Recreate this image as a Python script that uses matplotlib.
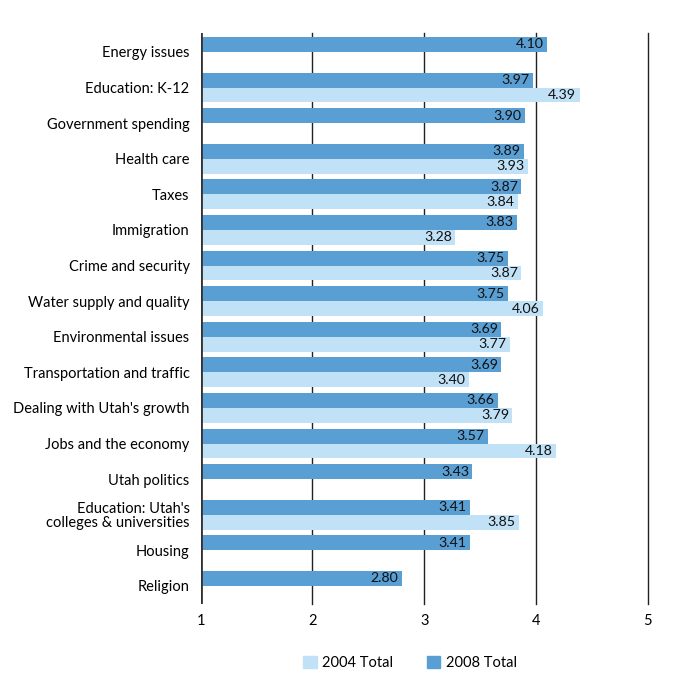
import numpy as np
import matplotlib.pyplot as plt
from matplotlib.patches import Patch

plt.rcParams['font.family'] = ['Lato', 'DejaVu Sans']

categories = ["Energy issues", "Education: K-12", "Government spending", "Health care",
              "Taxes", "Immigration", "Crime and security", "Water supply and quality",
              "Environmental issues", "Transportation and traffic",
              "Dealing with Utah's growth", "Jobs and the economy", "Utah politics",
              "Education: Utah's\ncolleges & universities", "Housing", "Religion"]
total_2008 = [4.10, 3.97, 3.90, 3.89, 3.87, 3.83, 3.75, 3.75, 3.69, 3.69, 3.66, 3.57,
              3.43, 3.41, 3.41, 2.80]
total_2004 = [None, 4.39, None, 3.93, 3.84, 3.28, 3.87, 4.06, 3.77, 3.40, 3.79, 4.18,
              None, 3.85, None, None]

dark = '#5a9fd4'
light = '#c1e1f6'
h = 0.42

fig = plt.figure(figsize=(6.78, 7), dpi=100)
ax = fig.add_axes([0.296, 0.137, 0.6593, 0.816])

y = np.arange(len(categories))
base = 1

for i, v in enumerate(total_2008):
    ax.barh(i - h / 2, v - base, left=base, height=h, color=dark, zorder=3)
    ax.text(v - 0.03, i - h / 2, f"{v:.2f}", ha='right', va='center', fontsize=10.2,
            color='#111111', zorder=4)
for i, v in enumerate(total_2004):
    if v is None:
        continue
    ax.barh(i + h / 2, v - base, left=base, height=h, color=light, zorder=3)
    ax.text(v - 0.03, i + h / 2, f"{v:.2f}", ha='right', va='center', fontsize=10.2,
            color='#111111', zorder=4)

ax.set_xlim(1, 5)
ax.set_ylim(15.51, -0.534)
ax.set_yticks(y)
ax.set_yticklabels(categories, fontsize=10.5, linespacing=1.0)
ax.set_xticks([1, 2, 3, 4, 5])
ax.set_xticklabels(['1', '2', '3', '4', '5'], fontsize=10.5)
ax.tick_params(length=0)
ax.tick_params(axis='y', pad=8)
ax.tick_params(axis='x', pad=7)

for s in ax.spines.values():
    s.set_visible(False)
for xv in [2, 3, 4, 5]:
    ax.axvline(xv, color='#222222', lw=1, zorder=1, clip_on=False)
ax.axvline(1, color='#333333', lw=2, zorder=5)

handles = [Patch(color=light, label='2004 Total'), Patch(color=dark, label='2008 Total')]
fig.legend(handles=handles, loc='center', bbox_to_anchor=(0.605, 0.053), ncol=2,
           frameon=False, fontsize=10.5, handlelength=0.9, handleheight=0.9,
           handletextpad=0.4, columnspacing=2.3)

fig.savefig('out.png', dpi=100)
